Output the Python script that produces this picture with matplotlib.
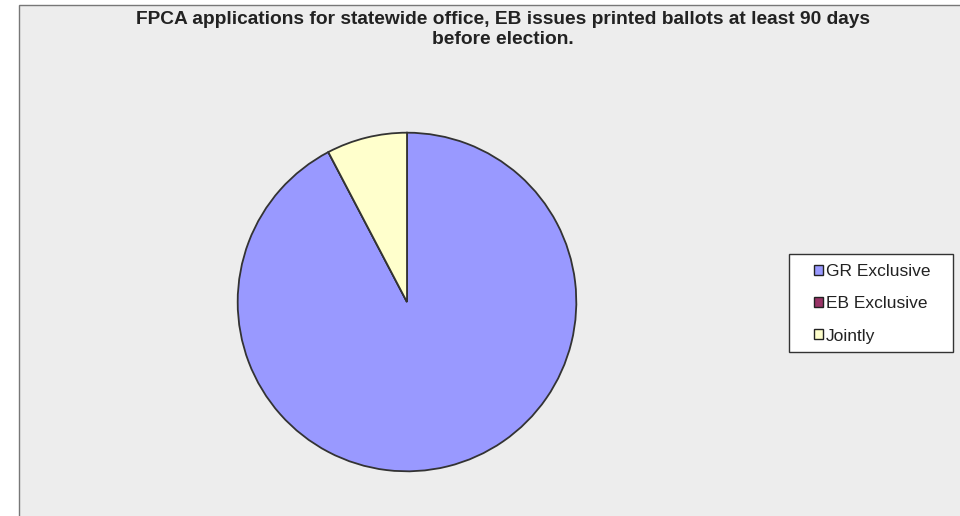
import matplotlib.pyplot as plt
from matplotlib.patches import Rectangle, Patch

labels = ['GR Exclusive', 'EB Exclusive', 'Jointly']
values = [12, 0, 1]
colors = ['#9999FF', '#993366', '#FFFFCC']

W, H = 960, 516
fig = plt.figure(figsize=(9.6, 5.16), dpi=100)
fig.patch.set_facecolor('white')

# chart area background with border (right and bottom run off the image)
fig.patches.append(Rectangle((19 / W, -0.05), 1.0, 1 - 5.5 / H + 0.05,
                             transform=fig.transFigure, facecolor='#EDEDED',
                             edgecolor='#777777', linewidth=1.0, zorder=-5))

fig.text(503 / W, 1 - 29.5 / H, 'FPCA applications for statewide office, EB issues printed ballots at least 90 days\nbefore election.',
         ha='center', va='center', fontsize=13.8, fontweight='bold',
         family='Liberation Sans', color='#222222', linespacing=1.2)

cx, cy, r = 407, 516 - 302, 171
ax = fig.add_axes([(cx - r) / W, (cy - r) / H, 2 * r / W, 2 * r / H])
ax.pie(values, colors=colors, startangle=90, counterclock=False, radius=1,
       wedgeprops=dict(edgecolor='#333333', linewidth=1.3))
ax.set_xlim(-1.01, 1.01)
ax.set_ylim(-1.01, 1.01)
ax.axis('off')

# legend box
fig.patches.append(Rectangle((789 / W, 1 - 352 / H), 164 / W, 98 / H,
                             transform=fig.transFigure, facecolor='white',
                             edgecolor='#333333', linewidth=1.0, zorder=1))

handles = [Patch(facecolor=c, edgecolor='#222222', linewidth=1.0) for c in colors]
leg = fig.legend(handles, labels, loc='center left',
                 bbox_to_anchor=(814 / W, 1 - 304 / H),
                 prop={'family': 'Liberation Sans', 'size': 12.5},
                 frameon=False,
                 handlelength=0.5, handleheight=0.5, handletextpad=0.2,
                 labelspacing=0.98, borderpad=0, borderaxespad=0)
leg.set_zorder(2)
for t in leg.get_texts():
    t.set_color('#222222')

fig.savefig('out.png', dpi=100)
